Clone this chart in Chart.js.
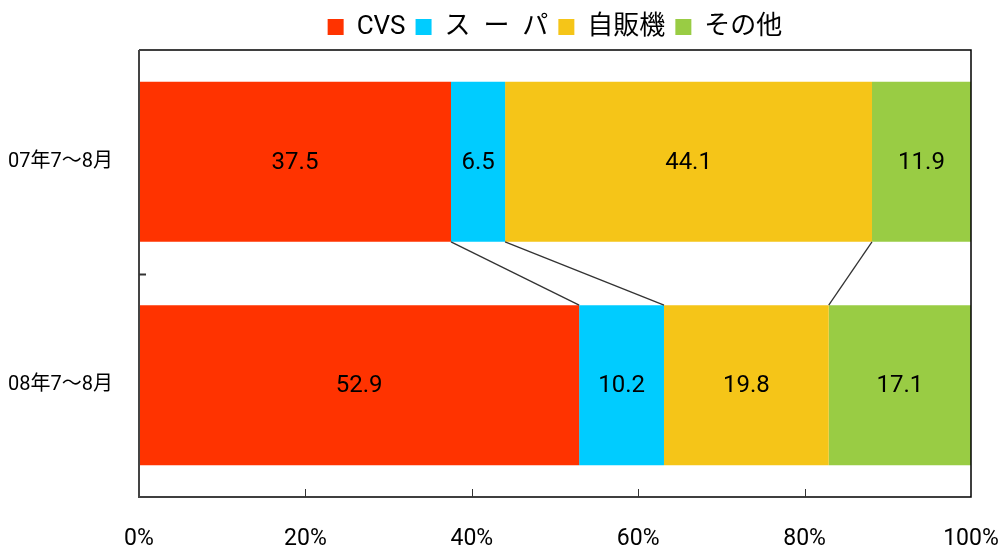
<!DOCTYPE html>
<html>
<head>
<meta charset="utf-8">
<script src="https://cdn.jsdelivr.net/npm/chart.js@4/dist/chart.umd.min.js"></script>
<style>
  html, body { margin: 0; padding: 0; background: #fff; }
  #wrap { width: 1001px; height: 546px; position: relative; }
</style>
</head>
<body>
<div id="wrap"><canvas id="c" width="1001" height="546"></canvas></div>
<script>
// Periods (one bar each)
const categories = ['07年7〜8月', '08年7〜8月'];
// Series shown in the legend
const seriesNames = ['CVS', 'ス  ー  パ', '自販機', 'その他'];
// Share of each channel, percent
const cvsValues = [37.5, 52.9];
const superValues = [6.5, 10.2];
const vendingValues = [44.1, 19.8];
const otherValues = [11.9, 17.1];
// Percent axis ticks
const xTickValues = [0, 20, 40, 60, 80, 100];

const seriesColors = ['#FF3300', '#00CCFF', '#F5C518', '#99CC44'];
const seriesValues = [cvsValues, superValues, vendingValues, otherValues];

const FONT = "Roboto, 'Noto Sans CJK JP', sans-serif";
Chart.defaults.font.family = FONT;
Chart.defaults.color = '#000';

// Center the legend over the plot area rather than the whole canvas
const legendOverPlot = {
  id: 'legendOverPlot',
  afterLayout(chart) {
    const lg = chart.legend;
    const area = chart.chartArea;
    const w = lg.right - lg.left;
    const shift = (area.left + area.right) / 2 - (lg.left + lg.right) / 2;
    lg.left += shift;
    lg.right = lg.left + w;
  }
};

// Frame, inward tick marks, series lines and value labels
const decorations = {
  id: 'decorations',
  afterDatasetsDraw(chart) {
    const ctx = chart.ctx;
    const area = chart.chartArea;
    const xs = chart.scales.x;

    // series lines joining the segment boundaries of the two bars
    const metas = seriesValues.map((_, i) => chart.getDatasetMeta(i));
    ctx.save();
    ctx.strokeStyle = '#333';
    ctx.lineWidth = 1.3;
    let cumA = 0, cumB = 0;
    for (let k = 0; k < seriesValues.length - 1; k++) {
      cumA += seriesValues[k][0];
      cumB += seriesValues[k][1];
      const a = metas[k].data[0];
      const b = metas[k].data[1];
      const y1 = a.y + a.height / 2;
      const y2 = b.y - b.height / 2;
      ctx.beginPath();
      ctx.moveTo(xs.getPixelForValue(cumA), y1);
      ctx.lineTo(xs.getPixelForValue(cumB), y2);
      ctx.stroke();
    }
    ctx.restore();

    // value labels
    ctx.save();
    ctx.font = '24px ' + FONT;
    ctx.fillStyle = '#000';
    ctx.textAlign = 'center';
    ctx.textBaseline = 'middle';
    metas.forEach((meta, i) => {
      meta.data.forEach((el, j) => {
        const p = el.getCenterPoint();
        ctx.fillText(seriesValues[i][j].toFixed(1), p.x, p.y + 1);
      });
    });
    ctx.restore();

    // frame
    ctx.save();
    ctx.strokeStyle = '#000';
    ctx.lineWidth = 1.5;
    ctx.beginPath();
    ctx.moveTo(area.left, area.top);
    ctx.lineTo(area.right, area.top);
    ctx.lineTo(area.right, area.bottom);
    ctx.lineTo(area.left, area.bottom);
    ctx.stroke();
    ctx.strokeStyle = '#444';
    ctx.lineWidth = 2;
    ctx.beginPath();
    ctx.moveTo(area.left, area.top);
    ctx.lineTo(area.left, area.bottom + 1);
    ctx.stroke();

    // inward tick marks
    ctx.strokeStyle = '#333';
    ctx.lineWidth = 1;
    xTickValues.slice(1, -1).forEach(v => {
      const x = Math.round(xs.getPixelForValue(v)) + 0.5;
      ctx.beginPath();
      ctx.moveTo(x, area.bottom);
      ctx.lineTo(x, area.bottom - 8);
      ctx.stroke();
    });
    const ym = Math.round((area.top + area.bottom) / 2) + 0.5;
    ctx.lineWidth = 2;
    ctx.beginPath();
    ctx.moveTo(area.left, ym);
    ctx.lineTo(area.left + 7, ym);
    ctx.stroke();
    ctx.restore();
  }
};

new Chart(document.getElementById('c'), {
  type: 'bar',
  data: {
    labels: categories,
    datasets: seriesNames.map((name, i) => ({
      label: name,
      data: seriesValues[i],
      backgroundColor: seriesColors[i],
      borderWidth: 0,
      barPercentage: 0.717,
      categoryPercentage: 1
    }))
  },
  options: {
    indexAxis: 'y',
    responsive: false,
    animation: false,
    layout: { padding: { top: 4, right: 0, bottom: 0, left: 0 } },
    scales: {
      x: {
        stacked: true,
        min: 0,
        max: 100,
        afterBuildTicks(scale) { scale.ticks = xTickValues.map(v => ({ value: v })); },
        afterFit(scale) {
          scale.height = 49;
          scale.paddingLeft = 0;
          scale.paddingRight = 30;
        },
        grid: { display: false, drawTicks: false },
        border: { display: false },
        ticks: {
          padding: 28,
          font: { size: 23 },
          color: '#000',
          callback: v => v + '%'
        }
      },
      y: {
        stacked: true,
        afterFit(scale) { scale.width = 139; },
        grid: { display: false, drawTicks: false },
        border: { display: false },
        ticks: {
          padding: 26,
          font: { size: 20 },
          color: '#000'
        }
      }
    },
    plugins: {
      legend: {
        position: 'top',
        labels: {
          boxWidth: 16,
          boxHeight: 16,
          padding: 10,
          font: { size: 26 },
          color: '#000'
        }
      },
      tooltip: { enabled: false }
    }
  },
  plugins: [legendOverPlot, decorations]
});
</script>
</body>
</html>
